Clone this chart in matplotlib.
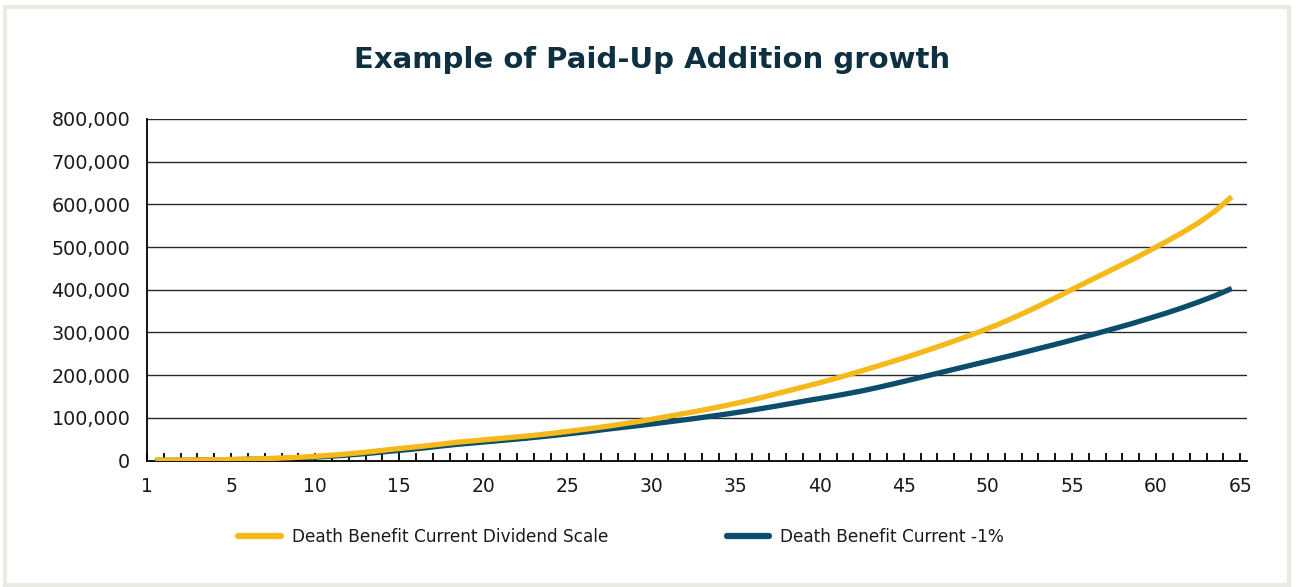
import matplotlib
matplotlib.use("Agg")
import matplotlib.pyplot as plt
from matplotlib.patches import Rectangle

# policy years 1..65
years = list(range(1, 66))

# Death Benefit Current Dividend Scale
db_current = [
    500, 800, 1000, 1500, 2000, 2800, 3800, 5000, 6500, 8500,
    11000, 14000, 17500, 21500, 26000, 30000, 34000, 38500, 43000, 46500,
    50000, 53500, 57000, 61000, 65500, 70500, 75500, 81000, 87000, 93000,
    100000, 107000, 114000, 121500, 129500, 138000, 147000, 157000, 167000, 177000,
    187500, 198500, 210000, 222000, 234000, 246500, 259500, 273000, 287000, 301500,
    317000, 334000, 352000, 371000, 390500, 410500, 430000, 449500, 469000, 489500,
    510500, 532500, 556000, 584000, 618000,
]

# Death Benefit Current -1%
db_minus1 = [
    300, 500, 800, 1200, 1700, 2400, 3200, 4200, 5500, 7000,
    9000, 11500, 14500, 18000, 22000, 25500, 29500, 34000, 38000, 41500,
    45000, 48500, 52000, 56000, 60000, 64500, 69000, 74000, 78500, 83000,
    88000, 93000, 98000, 103500, 109000, 115000, 121500, 128000, 135000, 142000,
    148500, 155500, 163000, 171500, 180500, 190000, 199500, 209000, 218500, 228000,
    237500, 247000, 257000, 267000, 277000, 287500, 298000, 309000, 320000, 332000,
    344000, 357000, 371000, 386000, 403000,
]

label_current = "Death Benefit Current Dividend Scale"
label_minus1 = "Death Benefit Current -1%"
title = "Example of Paid-Up Addition growth"

yellow = "#F6B91A"
blue = "#0B4D6A"
navy = "#0E3141"

fig = plt.figure(figsize=(12.97, 5.87), dpi=100)

# light frame round the card
fig.patches.append(Rectangle((0.004, 0.004), 0.99, 0.984, transform=fig.transFigure,
                             fill=False, edgecolor="#ebe9e2", linewidth=3))

ax = fig.add_axes([0.1133, 0.2155, 0.8481, 0.5818])

# category positions: year i sits in the middle of slot i
xpos = [y - 0.5 for y in years]
l1, = ax.plot(xpos, db_current, color=yellow, lw=3.8, solid_capstyle="butt", label=label_current, zorder=3)
l2, = ax.plot(xpos, db_minus1, color=blue, lw=3.8, solid_capstyle="butt", label=label_minus1, zorder=2)

ax.set_xlim(0, 65.4)
ax.set_ylim(0, 800000)

yt = list(range(0, 800001, 100000))
ax.set_yticks(yt)
ax.set_yticklabels([f"{v:,}" for v in yt])
for v in yt[1:]:
    ax.axhline(v, color="#2a2a2a", lw=1.0, zorder=1)

ax.set_xticks([0] + list(range(5, 66, 5)))
ax.set_xticklabels(["1"] + [str(v) for v in range(5, 66, 5)])
ax.set_xticks(range(0, 66), minor=True)

ax.tick_params(axis="x", which="both", direction="in", length=6, width=1.3, color="black",
               labelsize=13.5, pad=12, labelcolor="#1a1a1a")
ax.tick_params(axis="y", length=0, labelsize=13.8, pad=12, labelcolor="#1a1a1a")

for s in ["top", "right"]:
    ax.spines[s].set_visible(False)
for s in ["left", "bottom"]:
    ax.spines[s].set_color("black")
    ax.spines[s].set_linewidth(1.3)

fig.text(0.503, 0.898, title, ha="center", va="center", fontsize=21, fontweight="bold", color=navy)

leg = fig.legend(handles=[l1, l2], loc="center", bbox_to_anchor=(0.479, 0.085), ncol=2,
                 frameon=False, fontsize=12.2, handlelength=2.5, handletextpad=0.65,
                 columnspacing=7.0)
for h in leg.get_lines():
    h.set_linewidth(4.5)
    h.set_solid_capstyle("round")
for t in leg.get_texts():
    t.set_color("#1a1a1a")

fig.savefig("out.png", dpi=100)
